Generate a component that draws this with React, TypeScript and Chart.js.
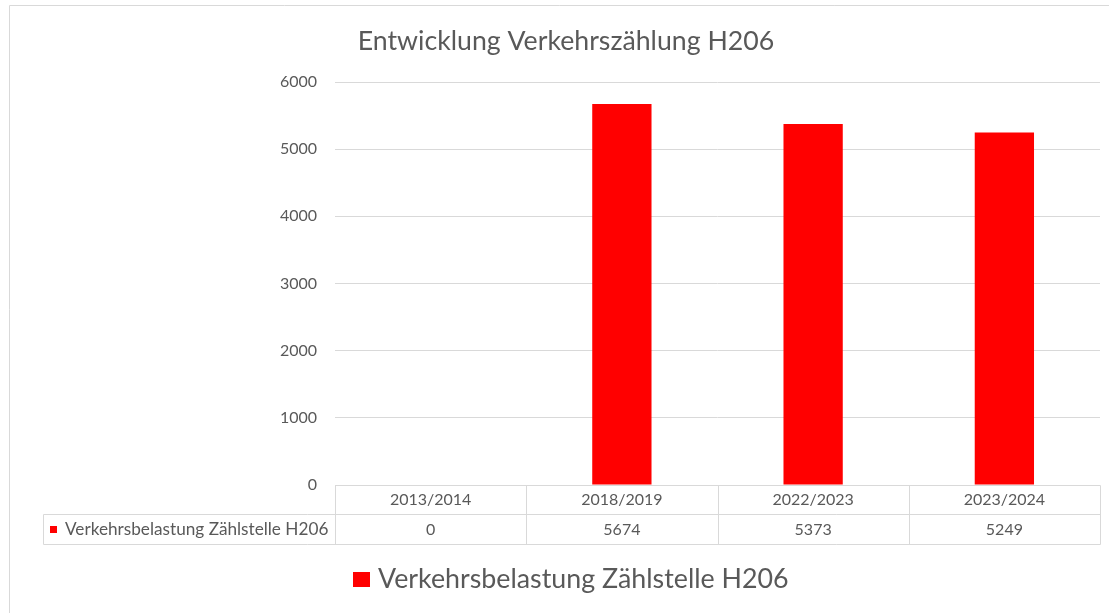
import React, { useEffect, useRef } from "react";
import { Chart, registerables } from "chart.js";

Chart.register(...registerables);

const categories = ["2013/2014", "2018/2019", "2022/2023", "2023/2024"];
const seriesName = "Verkehrsbelastung Zählstelle H206";
const seriesValues = [0, 5674, 5373, 5249];
const yTicks = [0, 1000, 2000, 3000, 4000, 5000, 6000];
const chartTitle = "Entwicklung Verkehrszählung H206";

const TEXT = "#595959";
const GRID = "#d9d9d9";
const RED = "#ff0000";
const FONT = "Lato, 'Open Sans', sans-serif";
const W = 1109;
const H = 613;

const decorPlugin = {
  id: "decor",
  afterDraw(chart: any) {
    const ctx = chart.ctx as CanvasRenderingContext2D;
    const area = chart.chartArea;
    const xs = chart.scales.x;
    const n = categories.length;
    const step = (area.right - area.left) / n;
    ctx.save();
    // outer frame
    ctx.strokeStyle = GRID;
    ctx.lineWidth = 1;
    ctx.beginPath();
    ctx.moveTo(9.5, H);
    ctx.lineTo(9.5, 5.5);
    ctx.lineTo(W, 5.5);
    ctx.stroke();

    // title
    ctx.fillStyle = TEXT;
    ctx.font = `26.7px ${FONT}`;
    ctx.textAlign = "center";
    ctx.textBaseline = "middle";
    ctx.fillText(chartTitle, 566, 41);

    // data table
    const t0 = Math.round(area.bottom) + 0.5;
    const t1 = t0 + 29;
    const t2 = t1 + 30;
    const labelLeft = 43.5;
    const left = Math.round(area.left) + 0.5;
    const right = Math.round(area.right) + 0.5;
    ctx.strokeStyle = GRID;
    ctx.beginPath();
    ctx.moveTo(left, t0); ctx.lineTo(right, t0);
    ctx.moveTo(labelLeft, t1); ctx.lineTo(right, t1);
    ctx.moveTo(labelLeft, t2); ctx.lineTo(right, t2);
    ctx.moveTo(labelLeft, t1); ctx.lineTo(labelLeft, t2);
    for (let i = 0; i <= n; i++) {
      const bx = Math.round(area.left + step * i) + 0.5;
      ctx.moveTo(bx, t0); ctx.lineTo(bx, t2);
    }
    ctx.stroke();

    ctx.fillStyle = TEXT;
    ctx.font = `16px ${FONT}`;
    ctx.textAlign = "center";
    ctx.textBaseline = "middle";
    categories.forEach((c, i) => {
      const cx = xs.getPixelForValue(i);
      ctx.fillText(c, cx, (t0 + t1) / 2);
      ctx.fillText(String(seriesValues[i]), cx, (t1 + t2) / 2);
    });
    // row label with legend key
    ctx.fillStyle = RED;
    ctx.fillRect(50, 526, 7, 7);
    ctx.fillStyle = TEXT;
    ctx.font = `17.2px ${FONT}`;
    ctx.textAlign = "left";
    ctx.fillText(seriesName, 65, (t1 + t2) / 2);

    // bottom legend
    ctx.fillStyle = RED;
    ctx.fillRect(353, 572, 17, 15);
    ctx.fillStyle = TEXT;
    ctx.font = `26.8px ${FONT}`;
    ctx.textAlign = "left";
    ctx.fillText(seriesName, 378, 579);
    ctx.restore();
  },
};

export default function App() {
  const ref = useRef<HTMLCanvasElement | null>(null);
  useEffect(() => {
    if (!ref.current) return;
    const chart = new Chart(ref.current, {
      type: "bar",
      data: {
        labels: categories,
        datasets: [
          {
            label: seriesName,
            data: seriesValues,
            backgroundColor: RED,
            borderWidth: 0,
            barPercentage: 1,
            categoryPercentage: 0.31,
          },
        ],
      },
      options: {
        responsive: false,
        animation: false,
        devicePixelRatio: 1,
        layout: { padding: { top: 82, bottom: 128, left: 0, right: 9 } },
        plugins: {
          legend: { display: false },
          title: { display: false },
          tooltip: { enabled: false },
        },
        scales: {
          x: { display: false, offset: true },
          y: {
            min: 0,
            max: 6000,
            afterBuildTicks: (s: any) => {
              s.ticks = yTicks.map((v) => ({ value: v }));
            },
            ticks: {
              color: TEXT,
              font: { family: FONT, size: 16 },
              padding: 18,
              callback: (v: any) => String(v),
            },
            grid: { color: GRID, drawTicks: false },
            border: { display: false },
            afterFit: (s: any) => {
              s.width = 335;
            },
          },
        },
      },
      plugins: [decorPlugin],
    });
    return () => chart.destroy();
  }, []);
  return (
    <div style={{ position: "absolute", left: 0, top: 0, width: W, height: H, background: "#fff" }}>
      <canvas ref={ref} width={W} height={H} style={{ display: "block" }} />
    </div>
  );
}
